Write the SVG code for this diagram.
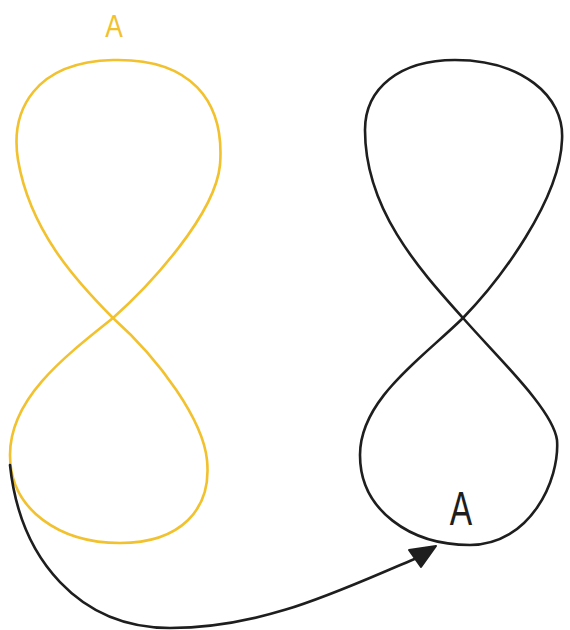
<svg xmlns="http://www.w3.org/2000/svg" width="570" height="630" viewBox="0 0 570 630">
<style>
.y{fill:none;stroke:#f2c12e;stroke-width:2.6;stroke-linecap:round;stroke-linejoin:round}
.k{fill:none;stroke:#1e1e1e;stroke-width:2.6;stroke-linecap:round;stroke-linejoin:round}
.t{font-family:"Liberation Sans",sans-serif;text-anchor:middle}
</style>
<rect width="570" height="630" fill="#ffffff"/>
<g id="yellow-eight">
<path class="y" d="M113,318 C75,280 30,230 18,160 C10,110 35,62 113,60 C190,58 225,100 220,165 C215,215 150,285 113,318 Z"/>
<path class="y" d="M113,318 C60,360 10,400 10,455 C10,510 60,543 120,543 C180,543 212,510 207,460 C203,420 160,360 113,318 Z"/>
<text class="t" transform="translate(114,37) scale(0.85,1)" x="0" y="0" font-size="31" fill="#f2c12e">A</text>
</g>
<g id="black-eight">
<path class="k" d="M463,318 C420,270 365,210 365,130 C365,88 400,60 455,60 C520,60 565,95 562,140 C560,200 500,280 463,318 Z"/>
<path class="k" d="M463,318 C420,360 360,400 360,455 C360,510 410,545 470,545 C530,545 560,480 557,440 C553,410 500,360 463,318 Z"/>
<text class="t" transform="translate(461,525) scale(0.7,1)" x="0" y="0" font-size="48" fill="#1e1e1e">A</text>
</g>
<g id="connectors">
<path class="k" d="M10,465 C20,560 80,628 170,628 C270,628 350,585 422,556"/>
<polygon points="409,550 436,546 421,567" fill="#1e1e1e" stroke="#1e1e1e" stroke-width="2" stroke-linejoin="round"/>
</g>
</svg>
